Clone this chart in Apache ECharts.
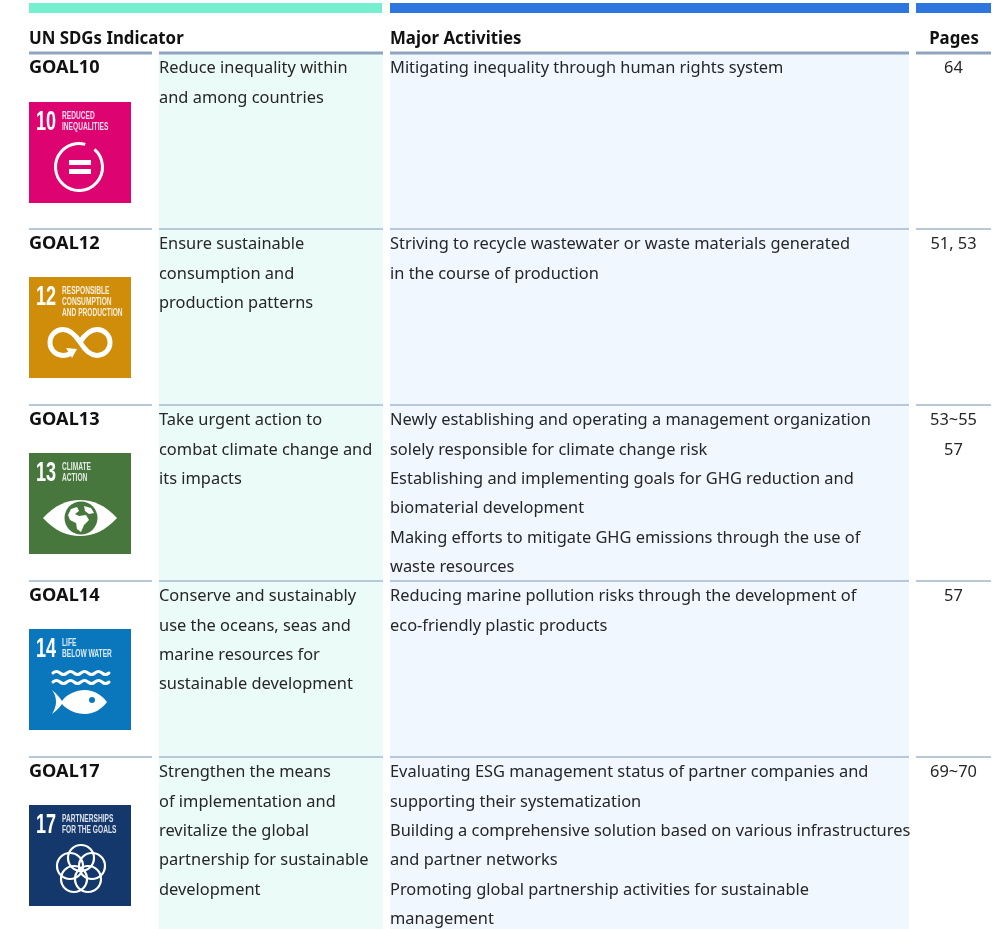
<!DOCTYPE html>
<html>
<head>
<meta charset="utf-8">
<style>
html, body { margin: 0; padding: 0; background: #fff; overflow: hidden; }
#chart { width: 1007px; height: 929px; }
</style>
<script src="https://cdn.jsdelivr.net/npm/echarts@6/dist/echarts.min.js"></script>
</head>
<body>
<div id="chart"></div>
<script>
// Table content
const headers = ['UN SDGs Indicator', 'Major Activities', 'Pages'];
const goals = ['GOAL10', 'GOAL12', 'GOAL13', 'GOAL14', 'GOAL17'];
const indicators = [
    ['Reduce inequality within', 'and among countries'],
    ['Ensure sustainable', 'consumption and', 'production patterns'],
    ['Take urgent action to', 'combat climate change and', 'its impacts'],
    ['Conserve and sustainably', 'use the oceans, seas and', 'marine resources for', 'sustainable development'],
    ['Strengthen the means', 'of implementation and', 'revitalize the global', 'partnership for sustainable', 'development']
];
const activities = [
    ['Mitigating inequality through human rights system'],
    ['Striving to recycle wastewater or waste materials generated', 'in the course of production'],
    ['Newly establishing and operating a management organization', 'solely responsible for climate change risk',
        'Establishing and implementing goals for GHG reduction and', 'biomaterial development',
        'Making efforts to mitigate GHG emissions through the use of', 'waste resources'],
    ['Reducing marine pollution risks through the development of', 'eco-friendly plastic products'],
    ['Evaluating ESG management status of partner companies and', 'supporting their systematization',
        'Building a comprehensive solution based on various infrastructures', 'and partner networks',
        'Promoting global partnership activities for sustainable', 'management']
];
const pages = [['64'], ['51, 53'], ['53~55', '57'], ['57'], ['69~70']];
const iconNumbers = ['10', '12', '13', '14', '17'];
const iconLabels = [
    ['REDUCED', 'INEQUALITIES'],
    ['RESPONSIBLE', 'CONSUMPTION', 'AND PRODUCTION'],
    ['CLIMATE', 'ACTION'],
    ['LIFE', 'BELOW WATER'],
    ['PARTNERSHIPS', 'FOR THE GOALS']
];
const iconColors = ['#dd0472', '#cf8d0a', '#48773e', '#0a76bc', '#14386c'];

// Layout (pixels, the x axis runs 1:1 with the page)
const goalCol = [29, 152];
const indicatorCol = [159, 383];
const activityCol = [390, 909];
const pageCol = [916, 991];
const LINE_H = 29.3;
const TEXT_FONT = '17px "Noto Sans"';
const BOLD_FONT = 'bold 17px "Noto Sans"';
const TEXT_SCALE = 0.965;

function label(x, y, str, opt) {
    opt = opt || {};
    return {
        type: 'text',
        x: x,
        y: y,
        scaleX: opt.scaleX || TEXT_SCALE,
        style: {
            text: str,
            fill: opt.fill || '#262626',
            font: opt.font || TEXT_FONT,
            textAlign: opt.align || 'left',
            textVerticalAlign: 'middle'
        }
    };
}

function box(x0, x1, y, h, fill) {
    return { type: 'rect', shape: { x: x0, y: y, width: x1 - x0, height: h }, style: { fill: fill } };
}

function stroked(d, width) {
    return { type: 'path', shape: { pathData: d }, style: { fill: null, stroke: '#fff', lineWidth: width, lineCap: 'round' } };
}

function filled(d, color) {
    return { type: 'path', shape: { pathData: d }, style: { fill: color || '#fff' } };
}

function ring(cx, cy, r, width) {
    return { type: 'circle', shape: { cx: cx, cy: cy, r: r }, style: { fill: null, stroke: '#fff', lineWidth: width } };
}

// Pictogram for each goal, 102 x 102 local coordinates
function pictogram(row) {
    const color = iconColors[row];
    if (row === 0) {
        return [
            { type: 'arc', shape: { cx: 50, cy: 65, r: 23.5, startAngle: -0.85, endAngle: -1.3, clockwise: true },
                style: { fill: null, stroke: '#fff', lineWidth: 3 } },
            box(40, 62, 58, 5, '#fff'),
            box(40, 62, 67, 5, '#fff')
        ];
    }
    if (row === 1) {
        return [
            stroked('M51 65C57 56 62 52.5 68 52.5C75 52.5 81 58 81 65.5C81 73 75 78.5 68 78.5C62 78.5 57 75 51 65C45 56 40 52.5 34 52.5C27 52.5 21 58 21 65.5C21 73 27 78.5 34 78.5C37 78.5 40 77.5 42 76', 5),
            filled('M37 71L48 72L43 81Z')
        ];
    }
    if (row === 2) {
        return [
            filled('M14 65C26 52 38 47 51 47C64 47 76 52 88 65C76 78 64 83 51 83C38 83 26 78 14 65Z'),
            { type: 'circle', shape: { cx: 52, cy: 65, r: 16.5 }, style: { fill: color } },
            filled('M42 56L48 54L50 58L46 61L50 63L57 62L60 67L55 72L52 79L48 76L47 70L41 67L39 62Z'),
            filled('M55 53L62 55L65 60L60 61L56 58Z')
        ];
    }
    if (row === 3) {
        const wave = 'q3.5 -3 7 0 q3.5 3 7 0 q3.5 -3 7 0 q3.5 3 7 0 q3.5 -3 7 0 q3.5 3 7 0 q3.5 -3 7 0 q3.5 3 7 0';
        return [
            stroked('M24 44' + wave, 3),
            stroked('M24 53' + wave, 3),
            filled('M23 61C28 65 31 69 33 72C38 65 47 61 56 61C65 61 73 66 78 73C73 80 65 85 56 85C47 85 38 81 33 75C31 78 28 81 23 85C26 80 27 76 27 73C27 69 26 65 23 61Z'),
            { type: 'circle', shape: { cx: 63, cy: 71, r: 3 }, style: { fill: color } }
        ];
    }
    const rings = [];
    [[52, 53], [63, 61], [59, 74], [45, 74], [41, 61]].forEach(function (c) {
        rings.push(ring(c[0], c[1], 13, 2.2));
    });
    return rings;
}

function iconGroup(row, y) {
    const children = [box(0, 102, 0, 101, iconColors[row])];
    children.push(label(7, 21, iconNumbers[row], { font: 'bold 27px "Liberation Sans"', fill: '#fff', scaleX: 0.67 }));
    iconLabels[row].forEach(function (t, k) {
        children.push(label(33, 14.5 + k * 11, t, { font: 'bold 10.5px "Liberation Sans"', fill: 'rgba(255,255,255,0.85)', scaleX: 0.63 }));
    });
    return { type: 'group', x: goalCol[0], y: y, children: children.concat(pictogram(row)) };
}

function renderRow(params, api) {
    const row = api.value(0);
    const center = api.coord([0, row]);
    const rowH = api.size([0, 1])[1];
    const top = center[1] - rowH / 2;
    const px = function (x) { return api.coord([x, row])[0]; };

    const lineH = row === 0 ? 3 : 2;
    const lineColor = row === 0 ? '#8fa4bf' : '#b8c8da';
    const children = [
        box(px(indicatorCol[0]), px(indicatorCol[1]), top, rowH, '#ebfbf7'),
        box(px(activityCol[0]), px(activityCol[1]), top, rowH, '#f0f7fe')
    ];
    [goalCol, indicatorCol, activityCol, pageCol].forEach(function (col) {
        children.push(box(px(col[0]), px(col[1]), top - lineH / 2, lineH, lineColor));
    });

    const firstLine = top + 15.5;
    children.push(label(px(goalCol[0]), firstLine, goals[row], { font: BOLD_FONT, fill: '#111', scaleX: 1.066 }));
    indicators[row].forEach(function (t, k) {
        children.push(label(px(indicatorCol[0]), firstLine + k * LINE_H, t));
    });
    activities[row].forEach(function (t, k) {
        children.push(label(px(activityCol[0]), firstLine + k * LINE_H, t));
    });
    pages[row].forEach(function (t, k) {
        children.push(label(px((pageCol[0] + pageCol[1]) / 2), firstLine + k * LINE_H, t, { align: 'center' }));
    });
    children.push(iconGroup(row, top + (row === 0 ? 49 : 48)));
    return { type: 'group', children: children };
}

const chart = echarts.init(document.getElementById('chart'), null, { renderer: 'canvas' });

chart.setOption({
    animation: false,
    backgroundColor: '#fff',
    grid: { left: 0, top: 53, width: 1007, height: 880, outerBoundsMode: 'none' },
    xAxis: { type: 'value', min: 0, max: 1007, show: false },
    yAxis: { type: 'category', data: goals, inverse: true, show: false },
    graphic: [
        { type: 'rect', shape: { x: 29, y: 3, width: 353, height: 10 }, style: { fill: '#76efcf' } },
        { type: 'rect', shape: { x: 390, y: 3, width: 519, height: 10 }, style: { fill: '#2d76dd' } },
        { type: 'rect', shape: { x: 916, y: 3, width: 75, height: 10 }, style: { fill: '#2d76dd' } },
        { type: 'text', x: 29, y: 39.5, scaleX: 0.99, style: { text: headers[0], font: BOLD_FONT, fill: '#111', textVerticalAlign: 'middle' } },
        { type: 'text', x: 390, y: 39.5, scaleX: 0.99, style: { text: headers[1], font: BOLD_FONT, fill: '#111', textVerticalAlign: 'middle' } },
        { type: 'text', x: 954, y: 39.5, scaleX: 0.99, style: { text: headers[2], font: BOLD_FONT, fill: '#111', textAlign: 'center', textVerticalAlign: 'middle' } }
    ],
    series: [{
        type: 'custom',
        silent: true,
        clip: false,
        renderItem: renderRow,
        data: goals.map(function (g, i) { return [i]; }),
        encode: { y: 0 }
    }]
});
</script>
</body>
</html>
